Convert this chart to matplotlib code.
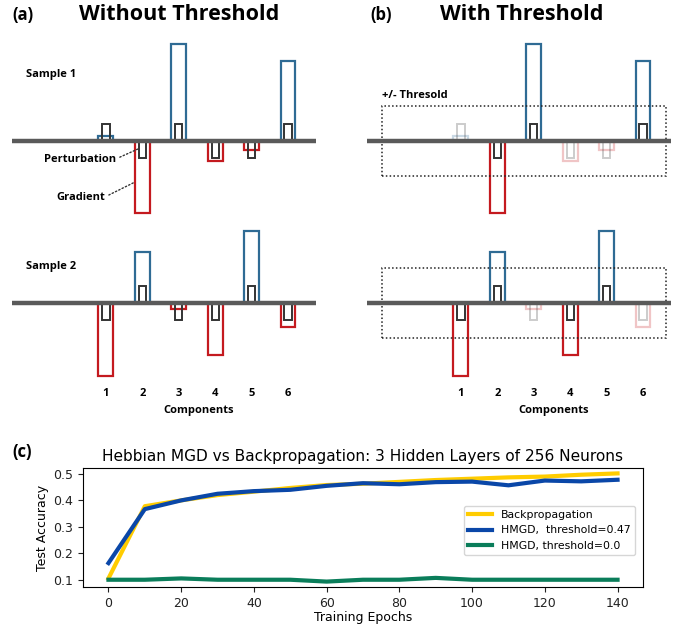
from matplotlib import pyplot as plt
from matplotlib.patches import Rectangle
import numpy as np

# ---- data ----
components = [1, 2, 3, 4, 5, 6]
grad_sample1 = [5, -72, 97, -20, -9, 80]
pert_sample1 = [17, -17, 17, -17, -17, 17]
grad_sample2 = [-73, 51, -6, -52, 72, -24]
pert_sample2 = [-17, 17, -17, -17, 17, -17]
threshold = 35

epochs = [0, 10, 20, 30, 40, 50, 60, 70, 80, 90, 100, 110, 120, 130, 140]
acc_backprop = [0.105, 0.378, 0.400, 0.420, 0.433, 0.447, 0.458, 0.463, 0.470,
                0.477, 0.482, 0.487, 0.490, 0.497, 0.502]
acc_hmgd_047 = [0.163, 0.367, 0.400, 0.425, 0.435, 0.440, 0.455, 0.465, 0.461,
                0.469, 0.471, 0.457, 0.475, 0.472, 0.478]
acc_hmgd_0 = [0.100, 0.100, 0.105, 0.100, 0.100, 0.100, 0.093, 0.100, 0.100,
              0.107, 0.100, 0.100, 0.100, 0.100, 0.100]

W, H = 681, 627
BLUE = '#2f6b94'
RED = '#c41a1f'
DARK = '#333333'
BOLD = dict(family='Open Sans', fontweight='bold')

fig = plt.figure(figsize=(W / 100, H / 100), dpi=100)


def px_axes(x0, y0, x1, y1):
    return fig.add_axes([x0 / W, 1 - y1 / H, (x1 - x0) / W, (y1 - y0) / H])


def draw_sample(ax, grads, perts, use_threshold):
    for c, g, p in zip(components, grads, perts):
        alpha = 0.25 if (use_threshold and abs(g) < threshold) else 1.0
        col = BLUE if g > 0 else RED
        ax.bar(c, g, 0.41, fill=False, edgecolor=col, lw=1.6, alpha=alpha, zorder=2)
        ax.bar(c, p, 0.2, fill=False, edgecolor=DARK, lw=1.4, alpha=alpha, zorder=3)
    ax.axhline(0, color='#5a5a5a', lw=3.2, zorder=5)
    if use_threshold:
        ax.add_patch(Rectangle((-1.17, -threshold), 7.8, 2 * threshold, fill=False,
                               ls=(0, (1, 1.5)), lw=1.1, ec='#222222', zorder=4))
    ax.set_xlim(-1.58, 6.77)
    for s in ax.spines.values():
        s.set_visible(False)
    ax.set_yticks([])
    ax.patch.set_alpha(0)


for i, (xoff, use_thr) in enumerate([(0, False), (355, True)]):
    ax1 = px_axes(12 + xoff, 30, 316 + xoff, 230)
    draw_sample(ax1, grad_sample1, pert_sample1, use_thr)
    ax1.set_ylim(-89, 111)
    ax1.set_xticks([])

    ax2 = px_axes(12 + xoff, 222, 316 + xoff, 384)
    draw_sample(ax2, grad_sample2, pert_sample2, use_thr)
    ax2.set_ylim(-81, 81)
    ax2.set_xticks(components)
    ax2.set_xticklabels([str(c) for c in components], fontsize=8, **BOLD)
    ax2.tick_params(axis='x', length=0, pad=3)
    ax2.set_xlabel('Components', fontsize=8, labelpad=4, x=0.615, **BOLD)
    if not use_thr:
        ax1.text(-1.2, 66, 'Sample 1', fontsize=8, va='center', ha='left', **BOLD)
        ax2.text(-1.2, 36, 'Sample 2', fontsize=8, va='center', ha='left', **BOLD)
        ax1.annotate('Perturbation', xy=(1.88, -8), xytext=(1.27, -18),
                     ha='right', va='center', fontsize=8, **BOLD,
                     arrowprops=dict(arrowstyle='-', ls=':', lw=1, color=DARK,
                                     shrinkA=1, shrinkB=0, relpos=(1, 0.5)))
        ax1.annotate('Gradient', xy=(1.80, -41), xytext=(0.97, -56),
                     ha='right', va='center', fontsize=8, **BOLD,
                     arrowprops=dict(arrowstyle='-', ls=':', lw=1, color=DARK,
                                     shrinkA=1, shrinkB=0, relpos=(1, 0.5)))
    else:
        ax1.text(-1.17, 45, '+/- Thresold', fontsize=8, va='center', ha='left', **BOLD)

fig.text(12 / W, 1 - 15 / H, '(a)', fontsize=12, va='center', ha='left', **BOLD)
fig.text(179 / W, 1 - 14 / H, 'Without Threshold', fontsize=15.5, va='center', ha='center', **BOLD)
fig.text(370 / W, 1 - 15 / H, '(b)', fontsize=12, va='center', ha='left', **BOLD)
fig.text(522 / W, 1 - 14 / H, 'With Threshold', fontsize=15.5, va='center', ha='center', **BOLD)
fig.text(12 / W, 1 - 452 / H, '(c)', fontsize=12, va='center', ha='left', **BOLD)

# ---- panel (c) ----
axc = px_axes(83, 468, 643, 587)
axc.plot(epochs, acc_backprop, color='#ffcc00', lw=3, label='Backpropagation')
axc.plot(epochs, acc_hmgd_047, color='#0a47a8', lw=3, label='HMGD,  threshold=0.47')
axc.plot(epochs, acc_hmgd_0, color='#0a7d5a', lw=3, label='HMGD, threshold=0.0')
axc.set_xticks(np.arange(0, 141, 20))
axc.set_yticks([0.1, 0.2, 0.3, 0.4, 0.5])
axc.tick_params(labelsize=9, colors='#222222')
axc.set_title('Hebbian MGD vs Backpropagation: 3 Hidden Layers of 256 Neurons',
              fontsize=11.1, pad=5)
axc.set_xlabel('Training Epochs', fontsize=9, labelpad=1)
axc.set_ylabel('Test Accuracy', fontsize=9, labelpad=3)
axc.legend(loc='upper right', fontsize=7.8, handlelength=2.2, bbox_to_anchor=(0.995, 0.73))

fig.savefig('out.png', dpi=100)
